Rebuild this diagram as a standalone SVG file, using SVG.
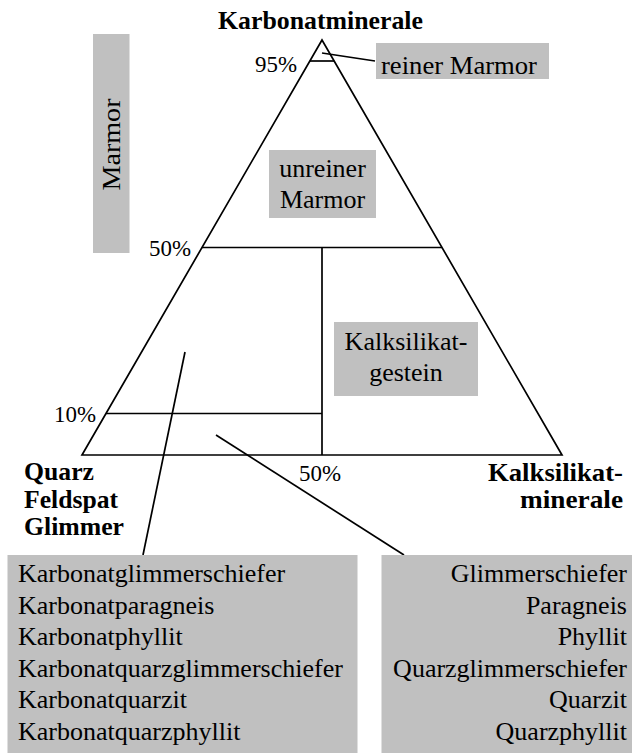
<svg xmlns="http://www.w3.org/2000/svg" width="632" height="753" viewBox="0 0 632 753">
<style>
.box{fill:#c0c0c0;stroke:none}
.ln{stroke:#000;stroke-width:1.7;fill:none;stroke-linejoin:miter}
.t{font-family:'Liberation Serif','DejaVu Serif',serif;font-size:26px;fill:#000}
.b{font-family:'Liberation Serif','DejaVu Serif',serif;font-size:25px;font-weight:bold;fill:#000}
.p{font-family:'Liberation Serif','DejaVu Serif',serif;font-size:24px;fill:#000}
.m{text-anchor:middle}
.e{text-anchor:end}
</style>
<rect width="632" height="753" fill="#fff"/>
<g id="triangle">
<path class="ln" d="M322,40 L82,455 L562,455 Z"/>
</g>
<g id="connectors">
<line class="ln" x1="309.9" y1="61" x2="334.1" y2="61"/>
<line class="ln" x1="202" y1="247.5" x2="442" y2="247.5"/>
<line class="ln" x1="322" y1="247.5" x2="322" y2="455"/>
<line class="ln" x1="106" y1="413.5" x2="322" y2="413.5"/>
<line class="ln" x1="322" y1="53" x2="375" y2="61"/>
<line class="ln" x1="185" y1="352" x2="143" y2="555"/>
<line class="ln" x1="216" y1="435" x2="404" y2="555"/>
</g>
<g id="title">
<text class="b m" x="320.5" y="29" textLength="205" lengthAdjust="spacingAndGlyphs">Karbonatminerale</text>
</g>
<g id="corner-left">
<text class="b" x="24" y="480" textLength="70" lengthAdjust="spacingAndGlyphs">Quarz</text>
<text class="b" x="24" y="508" textLength="94" lengthAdjust="spacingAndGlyphs">Feldspat</text>
<text class="b" x="24" y="535" textLength="100" lengthAdjust="spacingAndGlyphs">Glimmer</text>
</g>
<g id="corner-right">
<text class="b e" x="623" y="481" textLength="135" lengthAdjust="spacingAndGlyphs">Kalksilikat-</text>
<text class="b e" x="623" y="508" textLength="103" lengthAdjust="spacingAndGlyphs">minerale</text>
</g>
<g id="percent-labels">
<text class="p" x="255" y="71.5" textLength="42" lengthAdjust="spacingAndGlyphs">95%</text>
<text class="p" x="149" y="255.5" textLength="42" lengthAdjust="spacingAndGlyphs">50%</text>
<text class="p" x="54" y="422" textLength="42" lengthAdjust="spacingAndGlyphs">10%</text>
<text class="p" x="299" y="481" textLength="42" lengthAdjust="spacingAndGlyphs">50%</text>
</g>
<g id="marmor">
<rect class="box" x="93" y="34" width="36.5" height="219"/>
<text class="t m" transform="translate(120,144.5) rotate(-90)" x="0" y="0" font-size="27" textLength="92" lengthAdjust="spacingAndGlyphs">Marmor</text>
</g>
<g id="reiner-marmor">
<rect class="box" x="376" y="43" width="173" height="36"/>
<text class="t" x="381" y="73.5" textLength="156" lengthAdjust="spacingAndGlyphs">reiner Marmor</text>
</g>
<g id="unreiner-marmor">
<rect class="box" x="269" y="150" width="107" height="68"/>
<text class="t m" x="322.5" y="176.7">unreiner</text>
<text class="t m" x="322.5" y="208.3">Marmor</text>
</g>
<g id="kalksilikatgestein">
<rect class="box" x="334" y="322" width="144" height="74"/>
<text class="t m" x="406" y="350">Kalksilikat-</text>
<text class="t m" x="406" y="381">gestein</text>
</g>
<g id="list-left">
<rect class="box" x="7.5" y="555" width="350" height="198"/>
<text class="t" x="18" y="582">Karbonatglimmerschiefer</text>
<text class="t" x="18" y="613.6">Karbonatparagneis</text>
<text class="t" x="18" y="645.2">Karbonatphyllit</text>
<text class="t" x="18" y="676.8">Karbonatquarzglimmerschiefer</text>
<text class="t" x="18" y="708.4">Karbonatquarzit</text>
<text class="t" x="18" y="740">Karbonatquarzphyllit</text>
</g>
<g id="list-right">
<rect class="box" x="381.5" y="555" width="250.5" height="198"/>
<text class="t e" x="627" y="582">Glimmerschiefer</text>
<text class="t e" x="627" y="613.6">Paragneis</text>
<text class="t e" x="627" y="645.2">Phyllit</text>
<text class="t e" x="627" y="676.8">Quarzglimmerschiefer</text>
<text class="t e" x="627" y="708.4">Quarzit</text>
<text class="t e" x="627" y="740">Quarzphyllit</text>
</g>
</svg>
